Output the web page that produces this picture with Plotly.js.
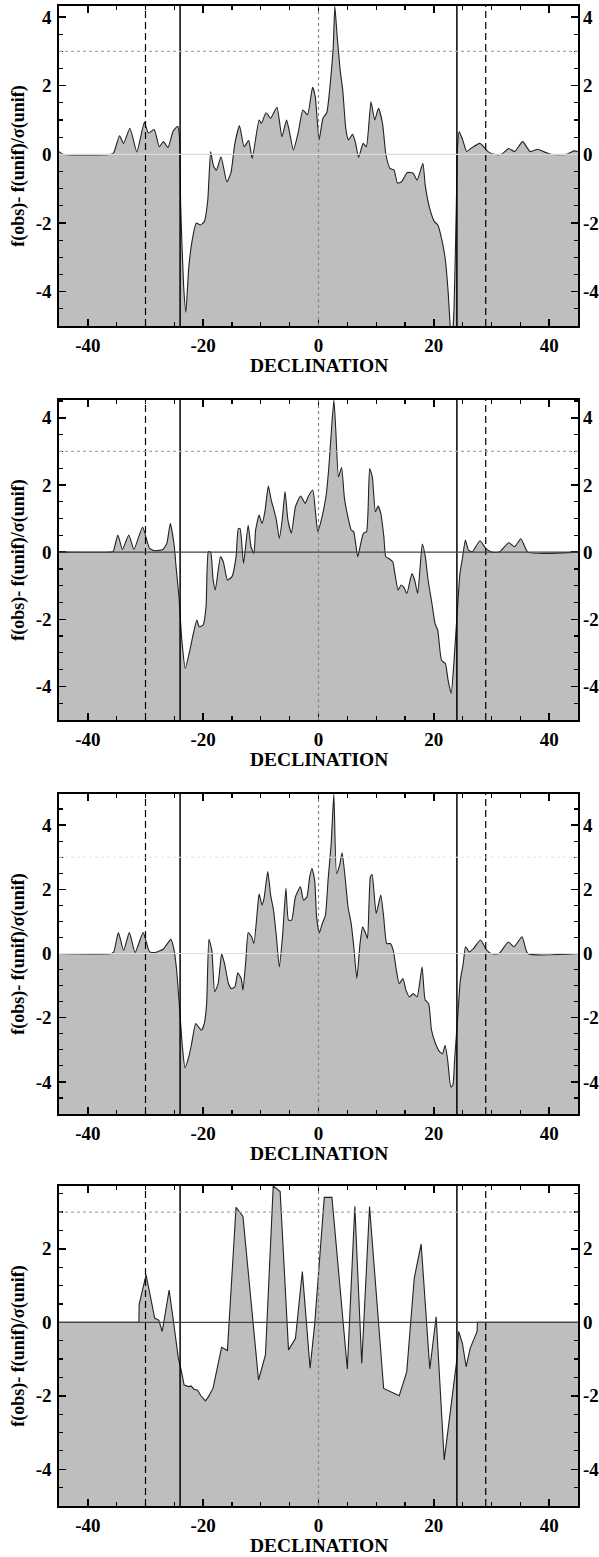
<!DOCTYPE html>
<html>
<head>
<meta charset="utf-8">
<script src="https://cdn.plot.ly/plotly-3.0.1.min.js"></script>
<style>html,body{margin:0;padding:0;background:#fff;}#chart{width:599px;height:1557px;}</style>
</head>
<body>
<div id="chart"></div>
<script>
// ---------------- data ----------------
const dec1 = [-45,-44.3,-36,-35.5,-34.5,-33.8,-32.7,-31.5,-30.2,-29.5,-28.5,-27.6,-26.9,-26.1,-25.2,-24.4,-24.1,-23.9,-23.4,-23.0,-22.5,-21.9,-21.2,-20.5,-19.8,-19.2,-18.7,-18.2,-17.7,-16.9,-15.9,-15.2,-14.5,-13.7,-12.9,-12.1,-11.5,-10.3,-9.9,-9.1,-8.3,-7.2,-6.35,-5.55,-5.1,-4.35,-3.55,-2.7,-1.9,-1.03,-0.56,0.1,0.77,1.43,2.1,2.56,2.83,3.2,3.75,4.2,4.76,5.2,5.9,6.4,6.95,7.75,8.3,9.1,9.75,10.4,11.1,11.7,12.4,13.1,13.7,14.4,15.4,16.4,17.1,18.1,18.5,19.2,20.1,20.7,21.4,22.0,22.5,22.9,23.1,23.5,23.9,24.1,24.4,25.0,25.7,26.4,28.0,29.4,30.4,31.7,33.0,34.0,35.4,36.7,38.0,39.0,40.3,43.0,44.3,45];
const sig1 = [0.08,0,0,0.05,0.54,0.32,0.76,0.07,0.93,0.62,0.72,0.22,0.37,0.2,0.68,0.82,0.5,-1.5,-3.8,-4.6,-3.3,-2.5,-2.0,-2.06,-1.96,-1.33,0.08,-0.35,-0.46,-0.07,-0.8,-0.55,0.32,0.83,0.22,0.4,-0.12,1.0,0.9,1.21,1.05,1.37,0.51,1.0,0.71,0.13,0.61,1.29,1.15,1.95,1.68,0.42,1.05,1.21,2.17,3.14,4.32,3.52,2.46,1.87,0.71,0.42,0.58,0.35,-0.09,0.32,0.22,1.53,1.0,1.34,0.9,-0.02,-0.41,-0.46,-0.84,-0.8,-0.53,-0.55,-0.75,-0.26,-0.89,-1.52,-1.96,-2.06,-2.5,-3.08,-4.05,-5.2,-5.6,-4.5,-1.5,0.2,0.66,0.42,0.08,0.17,0.32,0.08,0,0,0.17,0.08,0.37,0.08,0.15,0.08,0,0,0.1,0.08];

const dec2 = [-45,-36,-35.6,-34.8,-34.0,-32.9,-32.0,-30.5,-29.3,-28.3,-27.0,-26.3,-25.7,-25.0,-24.7,-24.2,-23.7,-23.1,-22.3,-21.7,-21.1,-20.7,-20.0,-19.5,-19.1,-18.7,-18.3,-17.9,-17.0,-16.5,-15.8,-15.0,-14.3,-13.9,-13.6,-13.0,-12.2,-11.7,-11.2,-10.9,-10.3,-9.8,-9.3,-8.7,-8.2,-7.8,-7.3,-6.8,-6.3,-5.8,-5.3,-4.7,-4.0,-3.1,-2.3,-1.8,-1.0,-0.5,-0.13,0.33,1.33,1.8,2.2,2.67,3.0,3.47,4.0,4.5,5.1,5.67,6.1,6.8,7.33,7.8,8.33,8.87,9.33,9.87,10.33,10.8,11.33,11.67,12.2,12.87,13.33,13.8,14.33,14.8,15.33,16.2,16.67,17.2,18.0,18.53,19.0,19.67,20.2,20.67,21.33,22.0,22.47,23.0,23.47,24.0,24.53,25.0,25.47,26.0,26.67,28.0,29.0,30.0,31.33,33.0,34.0,35.1,36.33,45];
const sig2 = [0,0,0.02,0.51,0.08,0.51,0.08,0.75,0.11,0.04,0.08,0.26,0.85,0.16,-0.44,-1.33,-2.62,-3.46,-2.92,-2.42,-2.02,-2.22,-2.17,-1.63,0.01,0.0,-0.78,-1.13,-0.14,-0.29,-0.83,-0.73,-0.14,0.7,0.7,-0.34,0.8,0.16,-0.04,0.66,1.1,0.85,1.2,1.97,1.55,1.3,0.95,0.41,0.95,1.8,0.95,0.56,1.35,1.67,1.45,1.65,1.85,1.15,0.61,0.85,1.7,2.54,3.53,4.53,3.63,2.24,2.52,1.6,1.05,0.66,0.61,-0.14,0.26,0.56,0.61,2.49,2.24,1.2,1.37,1.15,0.46,-0.14,-0.19,-0.29,-0.73,-1.13,-0.98,-1.05,-1.23,-0.64,-0.83,-1.23,0.24,-0.14,-0.83,-1.53,-2.12,-2.32,-3.22,-3.32,-3.81,-4.21,-3.32,-1.93,-0.64,-0.14,0.36,0.06,0.01,0.34,0.11,0,0,0.28,0.16,0.4,0,0];

const dec3 = [-45,-35.9,-35.5,-34.7,-33.8,-32.8,-31.8,-30.4,-29.3,-28.3,-26.9,-25.6,-25.1,-24.6,-24.15,-23.6,-23.15,-22.5,-22.0,-21.3,-20.8,-20.3,-19.8,-19.4,-19.0,-18.5,-18.0,-17.4,-16.8,-16.3,-15.6,-15.1,-14.5,-14.0,-13.4,-13.1,-12.6,-12.2,-11.6,-11.2,-10.6,-10.3,-9.8,-9.45,-8.8,-8.3,-7.8,-7.3,-6.8,-6.2,-5.65,-5.2,-4.66,-4.0,-3.13,-2.6,-2.0,-1.53,-1.13,-0.67,-0.33,0.13,0.67,1.2,1.66,2.2,2.66,3.13,3.66,4.1,4.66,5.12,5.66,6.12,6.65,7.2,7.65,8.2,8.5,9.0,9.3,10.0,10.8,11.3,11.84,12.44,12.97,13.5,14.0,14.64,15.17,15.77,16.43,17.1,17.96,18.5,19.1,19.6,20.3,21.0,21.5,21.96,22.4,22.95,23.3,23.6,24.1,24.6,25.1,25.5,26.15,26.9,28.1,29.1,29.9,31.3,32.9,33.9,35.3,36.3,45];
const sig3 = [0,0,0.05,0.65,0.1,0.65,0.03,0.65,0.05,0.03,0.14,0.44,0.16,-0.52,-1.56,-2.91,-3.56,-3.22,-2.81,-2.18,-2.29,-2.39,-2.18,-1.56,0.44,0.1,-1.19,-0.94,0.0,-0.31,-0.94,-1.09,-1.04,-0.6,-0.78,-1.14,-0.21,0.65,0.52,0.31,1.35,1.85,1.51,1.71,2.55,1.82,1.35,0.52,-0.42,0.62,2.03,1.04,1.04,1.77,2.08,1.66,1.77,2.39,2.65,2.29,1.14,0.64,0.94,1.19,2.29,3.43,4.97,2.49,2.75,3.14,2.29,1.45,0.94,0.21,-0.78,0.31,0.83,0.62,0.47,2.39,2.46,1.25,1.82,1.14,0.31,0.31,0.1,-0.52,-0.94,-0.78,-1.14,-1.35,-1.25,-1.35,-0.42,-1.45,-1.56,-2.39,-2.81,-3.06,-3.12,-2.86,-3.32,-4.16,-4.1,-3.32,-2.08,-0.83,-0.31,0.21,0.05,0.16,0.42,0.12,0,0,0.36,0.21,0.52,0,0];

const dec4 = [-45,-31.15,-31.1,-29.9,-28.4,-27.7,-27.1,-25.9,-25.3,-24.3,-23.75,-23.3,-22.5,-22.1,-21.6,-20.96,-20.4,-19.6,-19.1,-18.3,-16.8,-15.8,-14.3,-13.1,-10.4,-9.2,-7.85,-6.65,-5.2,-4.0,-2.8,-1.46,-0.67,1.0,2.33,5.0,6.3,7.5,8.85,11.3,14.0,15.3,16.6,17.8,19.3,20.4,21.8,23.95,24.3,24.95,25.6,26.3,27.5,27.55,45];
const sig4 = [0,0,0.49,1.29,0.11,0.06,-0.25,0.88,0.2,-0.98,-1.35,-1.71,-1.75,-1.73,-1.82,-1.85,-2.0,-2.14,-2.03,-1.8,-0.68,-0.77,3.13,2.88,-1.57,-0.89,3.71,3.56,-0.75,-0.44,1.38,-1.25,-0.07,3.4,3.4,-1.27,3.15,-1.12,3.15,-1.8,-2.0,-1.35,1.2,2.13,-1.27,0.15,-3.75,-1.07,-0.25,-0.57,-1.21,-0.71,-0.25,0,0];

const decs = [dec1, dec2, dec3, dec4];
const sigs = [sig1, sig2, sig3, sig4];

const xTickVals = [-40, -20, 0, 20, 40];
const yTickVals = [-4, -2, 0, 2, 4];
const decRange = [-45, 45];
const yBottom = -5;
const solidDec = [-24, 24];
const dashedDec = [-30, 29];
const centerDec = [0];
const sigmaLevel = 3;
const xTitle = 'DECLINATION';
const yTitle = 'f(obs)- f(unif)/σ(unif)';

// ---------------- styling ----------------
const FONT = '"Liberation Serif", "Times New Roman", serif';
const zeroColors = ['#dadada', '#444444', '#e2e2e2', '#444444'];
const sigmaColors = ['#a8a8a8', '#a8a8a8', '#e4e4e4', '#a8a8a8'];
const smooth = [true, true, true, false];

// pixel geometry of the four panels
const W = 599, H = 1557;
const M = {l: 59, r: 21, t: 6, b: 51};
const plotH = H - M.t - M.b;
const panelTop = [0, 394, 788, 1180];
const panelH = 320;

const traces = [];
const layout = {
  width: W, height: H,
  margin: M,
  paper_bgcolor: '#fff', plot_bgcolor: '#fff',
  showlegend: false,
  font: {family: FONT, color: '#000'},
  shapes: [],
  annotations: []
};

const tickfont = {family: FONT, size: 19, weight: 'bold', color: '#000'};
const titlefont = {family: FONT, size: 18, weight: 'bold', color: '#000'};
const xtitlefont = {family: FONT, size: 19.5, weight: 'bold', color: '#000'};

for (let i = 0; i < 4; i++) {
  const s = i === 0 ? '' : String(i + 1);
  const xa = 'x' + s, ya = 'y' + s, yr2 = 'y' + (i + 5);
  const yTop = Math.max(...sigs[i]);
  const yr = [yBottom, yTop];
  const d1 = 1 - panelTop[i] / plotH;
  const d0 = Math.max(0, 1 - (panelTop[i] + panelH) / plotH);

  traces.push({
    x: decRange, y: [yBottom, yBottom], xaxis: xa, yaxis: ya,
    mode: 'lines', line: {width: 0, color: 'rgba(0,0,0,0)'}, hoverinfo: 'skip'
  });
  traces.push({
    x: decs[i], y: sigs[i], xaxis: xa, yaxis: ya,
    mode: 'lines', fill: 'tonexty', fillcolor: '#bebebe',
    line: smooth[i] ? {color: '#222', width: 1.1, shape: 'spline', smoothing: 0.5}
                    : {color: '#222', width: 1.1}
  });
  // invisible companion so the right-hand label axis is drawn
  traces.push({
    x: decRange, y: [yBottom, yBottom], xaxis: xa, yaxis: yr2,
    mode: 'lines', line: {width: 0, color: 'rgba(0,0,0,0)'}, hoverinfo: 'skip'
  });

  layout['xaxis' + s] = {
    domain: [0, 1], anchor: ya, range: decRange,
    tickmode: 'array', tickvals: xTickVals, ticktext: xTickVals.map(String),
    ticks: 'inside', ticklen: 7, tickwidth: 1.5, tickcolor: '#000',
    minor: {dtick: 5, tick0: 0, ticks: 'inside', ticklen: 4, tickwidth: 1.2, tickcolor: '#000', showgrid: false},
    showline: true, linecolor: '#000', linewidth: 1.6, mirror: 'ticks',
    showgrid: false, zeroline: false, tickfont: tickfont,
    ticklabelstandoff: 2,
    automargin: false
  };
  layout['yaxis' + s] = {
    domain: [d0, d1], anchor: xa, range: yr,
    tickmode: 'array', tickvals: yTickVals, ticktext: yTickVals.map(String),
    ticks: 'inside', ticklen: 7, tickwidth: 1.5, tickcolor: '#000',
    minor: {dtick: 0.5, tick0: 0, ticks: 'inside', ticklen: 4, tickwidth: 1.2, tickcolor: '#000', showgrid: false},
    showline: true, linecolor: '#000', linewidth: 1.6, mirror: 'ticks',
    showgrid: false, zeroline: false, tickfont: tickfont,
    ticklabelstandoff: 2,
    title: {text: yTitle, font: titlefont, standoff: 6},
    automargin: false
  };
  layout['yaxis' + (i + 5)] = {
    overlaying: ya, side: 'right', anchor: xa, range: yr,
    tickmode: 'array', tickvals: yTickVals, ticktext: yTickVals.map(String),
    ticks: '', showline: false, showgrid: false, zeroline: false,
    ticklabelstandoff: 4,
    tickfont: tickfont, automargin: false
  };

  layout.annotations.push({
    text: xTitle, font: xtitlefont, showarrow: false,
    xref: xa + ' domain', yref: ya + ' domain', x: 0.5, y: 0,
    xanchor: 'center', yanchor: 'middle', yshift: -39
  });

  solidDec.forEach(v => layout.shapes.push({type: 'line', layer: 'above', xref: xa, yref: ya + ' domain', x0: v, x1: v, y0: 0, y1: 1, line: {color: '#000', width: 1.5}}));
  dashedDec.forEach(v => layout.shapes.push({type: 'line', layer: 'above', xref: xa, yref: ya + ' domain', x0: v, x1: v, y0: 0, y1: 1, line: {color: '#000', width: 1.2, dash: '7px,4px'}}));
  centerDec.forEach(v => layout.shapes.push({type: 'line', layer: 'above', xref: xa, yref: ya + ' domain', x0: v, x1: v, y0: 0, y1: 1, line: {color: '#888', width: 1.2, dash: 'dot'}}));
  layout.shapes.push({type: 'line', layer: 'above', xref: xa + ' domain', yref: ya, x0: 0, x1: 1, y0: sigmaLevel, y1: sigmaLevel, line: {color: sigmaColors[i], width: 1.2, dash: 'dot'}});
  layout.shapes.push({type: 'line', layer: 'above', xref: xa + ' domain', yref: ya, x0: 0, x1: 1, y0: 0, y1: 0, line: {color: zeroColors[i], width: 1.2}});
}

Plotly.newPlot('chart', traces, layout, {staticPlot: true, displayModeBar: false});
</script>
</body>
</html>
